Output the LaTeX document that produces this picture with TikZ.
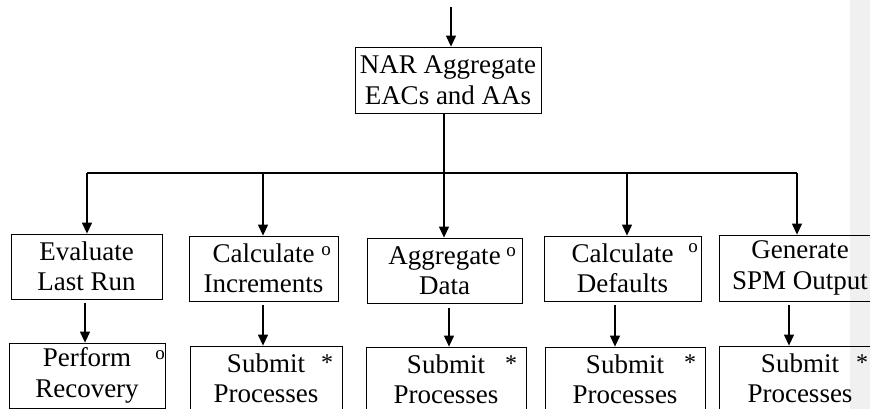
\documentclass[tikz,border=0pt]{standalone}
\usepackage{fontspec}
\setmainfont{Liberation Serif}
\usetikzlibrary{arrows.meta}
\definecolor{sidegray}{RGB}{240,240,240}
\begin{document}
\begin{tikzpicture}[x=1pt,y=-1pt,
 box/.style={draw=black, line width=0.8pt, inner sep=0pt, align=center, font=\fontsize{27}{30.5}\selectfont},
 arr/.style={line width=1.2pt, -{Triangle[width=10pt,length=11pt]}},
 bus/.style={line width=1.2pt},
 omark/.style={inner sep=0pt, anchor=base, font=\fontsize{19}{19}\selectfont},
 smark/.style={inner sep=0pt, anchor=base, font=\fontsize{24}{24}\selectfont}]
\useasboundingbox (0,0) rectangle (870,409);
\clip (0,0) rectangle (870,409);
\fill[sidegray] (850,0) rectangle (870,409);

% boxes
\node[box, minimum width=186pt, minimum height=66pt] (main) at (448,80) {NAR Aggregate\\EACs and AAs};

\node[box, minimum width=151pt, minimum height=65pt] (eval) at (86.5,266.5) {Evaluate\\Last Run};
\node[box, minimum width=149pt, minimum height=65pt] (inc) at (263.5,268.5) {Calculate\\Increments};
\node[box, minimum width=155pt, minimum height=65pt] (agg) at (444.5,270.5) {Aggregate\\Data};
\node[box, minimum width=157pt, minimum height=65pt] (def) at (622.5,268.5) {Calculate\\Defaults};
\node[box, minimum width=162pt, minimum height=66pt] (gen) at (800,268) {Generate\\SPM Output};

\node[box, minimum width=156pt, minimum height=65pt] (perf) at (87,375.5) {Perform\\Recovery};
\node[box, minimum width=152pt, minimum height=65pt] (sub2) at (266,378.5) {Submit\\Processes};
\node[box, minimum width=160pt, minimum height=65pt] (sub3) at (446,379.5) {Submit\\Processes};
\node[box, minimum width=160pt, minimum height=65pt] (sub4) at (625,379.5) {Submit\\Processes};
\node[box, minimum width=162pt, minimum height=65pt] (sub5) at (800,378.5) {Submit\\Processes};

% markers
\node[omark] (m1) at (326,255) {o};
\node[omark] (m2) at (511,256) {o};
\node[omark] (m3) at (693,252) {o};
\node[omark] (m4) at (160,359) {o};
\node[smark] (s2) at (327,370) {*};
\node[smark] (s3) at (511,371) {*};
\node[smark] (s4) at (690,370) {*};
\node[smark] (s5) at (862,370) {*};

% top arrow
\coordinate (top) at (451,7);
\draw[arr] (top) -- (top |- main.north);

% stem and bus
\coordinate (busC) at (444,173);
\coordinate (busL) at (87,173);
\coordinate (busR) at (797,173);
\coordinate (b2) at (263,173);
\coordinate (b4) at (627,173);
\draw[bus] (main.south -| busC) -- (busC);
\draw[bus] (busL) -- (busR);
\draw[arr] (busL) -- (busL |- eval.north);
\draw[arr] (b2) -- (b2 |- inc.north);
\draw[arr] (busC) -- (busC |- agg.north);
\draw[arr] (b4) -- (b4 |- def.north);
\draw[arr] (busR) -- (busR |- gen.north);

% second level
\coordinate (c1) at (85,303);
\coordinate (c2) at (263,305);
\coordinate (c3) at (449,308);
\coordinate (c4) at (615,305);
\coordinate (c5) at (789,305);
\draw[arr] (c1) -- (c1 |- perf.north);
\draw[arr] (c2) -- (c2 |- sub2.north);
\draw[arr] (c3) -- (c3 |- sub3.north);
\draw[arr] (c4) -- (c4 |- sub4.north);
\draw[arr] (c5) -- (c5 |- sub5.north);
\end{tikzpicture}
\end{document}
